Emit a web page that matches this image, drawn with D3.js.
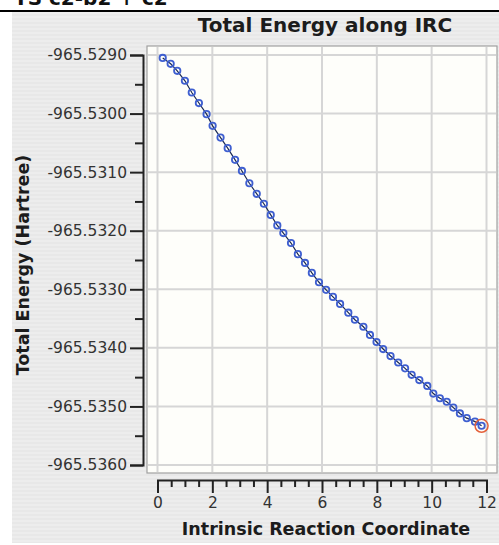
<!DOCTYPE html>
<html>
<head>
<meta charset="utf-8">
<script src="https://cdn.jsdelivr.net/npm/d3@7"></script>
<style>
	html, body { margin: 0; padding: 0; background: #fff; }
	svg { display: block; font-family: "DejaVu Sans", "Lucida Grande", sans-serif; }
</style>
</head>
<body>
<svg id="chart" width="499" height="545"></svg>
<script>
;(() => {
	'use strict';

	// values
	const ircCoord = [0.19, 0.48, 0.72, 1.00, 1.25, 1.51, 1.79, 2.01, 2.30, 2.56,
		2.83, 3.08, 3.35, 3.62, 3.88, 4.13, 4.37, 4.59, 4.87, 5.12,
		5.38, 5.63, 5.89, 6.15, 6.40, 6.66, 6.96, 7.20, 7.51, 7.75,
		7.99, 8.23, 8.50, 8.78, 9.03, 9.27, 9.55, 9.84, 10.06, 10.30,
		10.55, 10.79, 11.03, 11.28, 11.58, 11.82];
	const totalEnergy = [-965.52905, -965.52915, -965.52927, -965.52944, -965.52964, -965.52982, -965.53001, -965.53021, -965.53041, -965.53059,
		-965.53079, -965.53098, -965.53119, -965.53137, -965.53154, -965.53173, -965.53191, -965.53204, -965.53221, -965.53240,
		-965.53255, -965.53272, -965.53288, -965.53301, -965.53313, -965.53325, -965.53340, -965.53352, -965.53364, -965.53378,
		-965.53390, -965.53402, -965.53414, -965.53425, -965.53435, -965.53446, -965.53455, -965.53465, -965.53478, -965.53486,
		-965.53492, -965.53502, -965.53512, -965.53520, -965.53526, -965.53533];
	const xTicks = [0, 2, 4, 6, 8, 10, 12];
	const xMinorTicks = [0.5, 1, 1.5, 2.5, 3, 3.5, 4.5, 5, 5.5, 6.5, 7, 7.5, 8.5, 9, 9.5, 10.5, 11, 11.5];
	const yTicks = [-965.5290, -965.5300, -965.5310, -965.5320, -965.5330, -965.5340, -965.5350, -965.5360];
	const yMinorTicks = [-965.5295, -965.5305, -965.5315, -965.5325, -965.5335, -965.5345, -965.5355];

	const svg = d3.select('#chart');

	const plot = { left: 147, right: 497, top: 46, bottom: 473 };

	const x = d3.scaleLinear().domain([0, 12]).range([157.5, 486.5]),
		y = d3.scaleLinear().domain([-965.5360, -965.5290]).range([465, 55]);

	// plain hyphen instead of d3's unicode minus
	const yFormat = (d) => d3.format('.4f')(d).replace('\u2212', '-');

	// striped grey window background
	const defs = svg.append('defs');
	const pat = defs.append('pattern')
		.attr('id', 'stripes')
		.attr('width', 4).attr('height', 4)
		.attr('patternUnits', 'userSpaceOnUse');
	pat.append('rect').attr('width', 4).attr('height', 4).attr('fill', '#ededed');
	pat.append('rect').attr('y', 2).attr('width', 4).attr('height', 2).attr('fill', '#e8e8e8');

	// heading at top of page (cut off by the page edge, as in the source)
	svg.append('text')
		.attr('x', 14).attr('y', 5)
		.attr('font-weight', 'bold')
		.attr('font-size', 20)
		.attr('fill', '#111')
		.text('TS  c2-b2  +  c2');

	svg.append('line')
		.attr('x1', 0).attr('x2', 499)
		.attr('y1', 11).attr('y2', 11)
		.attr('stroke', '#000').attr('stroke-width', 2);

	svg.append('rect')
		.attr('x', 12).attr('y', 12)
		.attr('width', 487).attr('height', 531)
		.attr('fill', 'url(#stripes)');

	// plot area
	svg.append('rect')
		.attr('x', plot.left).attr('y', plot.top)
		.attr('width', plot.right - plot.left).attr('height', plot.bottom - plot.top)
		.attr('fill', '#fefefa')
		.attr('stroke', '#a0a0a0').attr('stroke-width', 1.2);

	// grid
	const grid = svg.append('g').attr('class', 'grid');
	grid.selectAll('.vgrid')
		.data(xTicks)
		.enter()
		.append('line')
		.attr('x1', (d) => x(d)).attr('x2', (d) => x(d))
		.attr('y1', plot.top + 1).attr('y2', plot.bottom - 1)
		.attr('stroke', '#d6d6d6').attr('stroke-width', 2);
	grid.selectAll('.hgrid')
		.data(yTicks)
		.enter()
		.append('line')
		.attr('x1', plot.left + 1).attr('x2', plot.right - 1)
		.attr('y1', (d) => y(d)).attr('y2', (d) => y(d))
		.attr('stroke', '#d6d6d6').attr('stroke-width', 2);

	// y axis
	svg.append('g')
		.attr('transform', 'translate(143,0)')
		.call(d3.axisLeft(y).tickValues(yTicks).tickSize(13).tickPadding(3).tickFormat(yFormat));
	svg.append('g')
		.attr('transform', 'translate(143,0)')
		.call(d3.axisLeft(y).tickValues(yMinorTicks).tickSize(8).tickFormat(''))
		.select('.domain').remove();

	// x axis
	svg.append('g')
		.attr('transform', 'translate(0,480)')
		.call(d3.axisBottom(x).tickValues(xTicks).tickSize(13).tickPadding(4));
	svg.append('g')
		.attr('transform', 'translate(0,480)')
		.call(d3.axisBottom(x).tickValues(xMinorTicks).tickSize(7).tickFormat(''))
		.select('.domain').remove();

	svg.selectAll('.domain').attr('stroke', '#222').attr('stroke-width', 2);
	svg.selectAll('.tick line').attr('stroke', '#222').attr('stroke-width', 2);
	svg.selectAll('.tick text')
		.attr('font-family', '"DejaVu Sans", sans-serif')
		.attr('font-size', 15.5)
		.attr('fill', '#333');

	// data line and markers
	const points = ircCoord.map((d, i) => ({ x: d, y: totalEnergy[i] }));

	svg.append('path')
		.datum(points)
		.attr('fill', 'none')
		.attr('stroke', '#1a2a55')
		.attr('stroke-width', 1.2)
		.attr('d', d3.line().x((d) => x(d.x)).y((d) => y(d.y)));

	svg.selectAll('.pt')
		.data(points)
		.enter()
		.append('circle')
		.attr('class', 'pt')
		.attr('cx', (d) => x(d.x))
		.attr('cy', (d) => y(d.y))
		.attr('r', 3.2)
		.attr('fill', 'none')
		.attr('stroke', '#3f5fd0')
		.attr('stroke-width', 1.8);

	const last = points[points.length - 1];
	svg.append('circle')
		.attr('cx', x(last.x)).attr('cy', y(last.y))
		.attr('r', 6.5)
		.attr('fill', 'none')
		.attr('stroke', '#e4603a')
		.attr('stroke-width', 1.5);

	// titles
	svg.append('text')
		.attr('x', 325).attr('y', 32)
		.attr('text-anchor', 'middle')
		.attr('font-weight', 'bold')
		.attr('font-size', 20)
		.attr('fill', '#1c1c1c')
		.text('Total Energy along IRC');

	svg.append('text')
		.attr('x', 326).attr('y', 535)
		.attr('text-anchor', 'middle')
		.attr('font-weight', 'bold')
		.attr('font-size', 17.5)
		.attr('fill', '#1c1c1c')
		.text('Intrinsic Reaction Coordinate');

	svg.append('text')
		.attr('transform', 'translate(29,265) rotate(-90)')
		.attr('text-anchor', 'middle')
		.attr('font-weight', 'bold')
		.attr('font-size', 17.5)
		.attr('fill', '#1c1c1c')
		.text('Total Energy (Hartree)');
})();
</script>
</body>
</html>
